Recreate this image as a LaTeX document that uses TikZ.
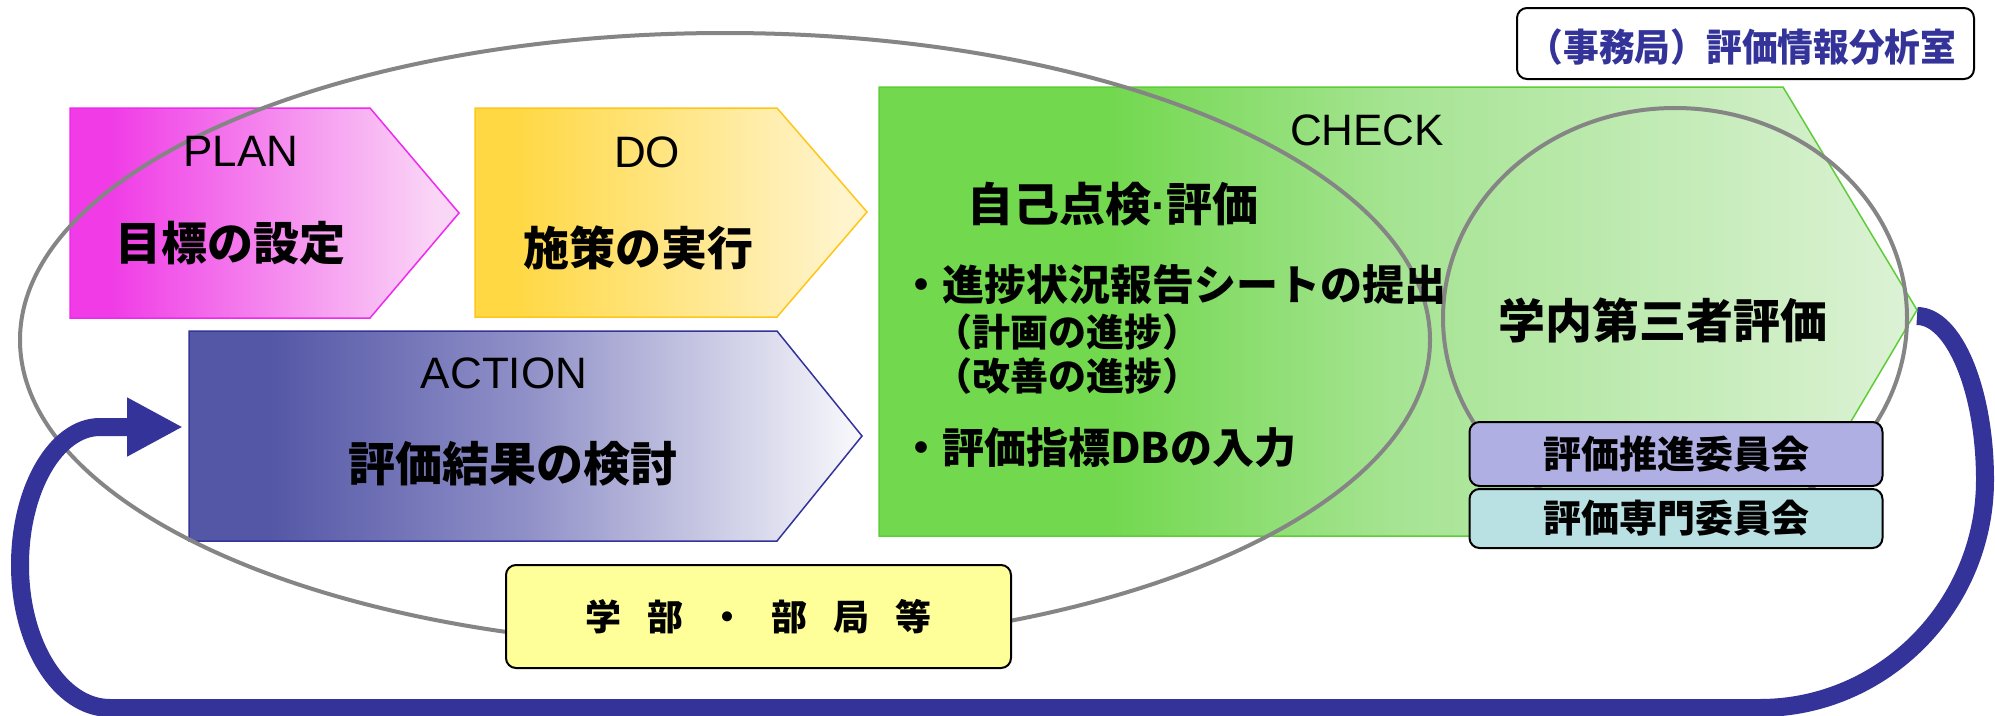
\documentclass[tikz,border=0pt]{standalone}
\usepackage{fontspec}
\setmainfont{Liberation Sans}
\newfontfamily\jp{Noto Sans CJK JP}
\usetikzlibrary{arrows.meta}

\definecolor{planA}{HTML}{F03BE6}
\definecolor{planB}{HTML}{FAD6F6}
\definecolor{planE}{HTML}{EE2AEE}
\definecolor{doA}{HTML}{FFD843}
\definecolor{doB}{HTML}{FFF4CC}
\definecolor{doE}{HTML}{FFC61A}
\definecolor{acA}{HTML}{5457A6}
\definecolor{acM}{HTML}{9090C8}
\definecolor{acB}{HTML}{F9F9FC}
\definecolor{acE}{HTML}{333399}
\definecolor{ckA}{HTML}{72D84E}
\definecolor{ckM}{HTML}{A6E493}
\definecolor{ckB}{HTML}{DDF2D6}
\definecolor{ckE}{HTML}{5FCC3A}
\definecolor{arrowblue}{HTML}{333399}
\definecolor{ellgray}{HTML}{858585}
\definecolor{yel}{HTML}{FFFF99}
\definecolor{lav}{HTML}{B0AFE3}
\definecolor{teal}{HTML}{B9E0E2}

\pgfdeclarehorizontalshading{planshade}{100bp}{color(0bp)=(planA);color(30bp)=(planA);color(72bp)=(planB);color(100bp)=(planB)}
\pgfdeclarehorizontalshading{doshade}{100bp}{color(0bp)=(doA);color(30bp)=(doA);color(72bp)=(doB);color(100bp)=(doB)}
\pgfdeclarehorizontalshading{acshade}{100bp}{color(0bp)=(acA);color(31bp)=(acA);color(50bp)=(acM);color(75bp)=(acB);color(100bp)=(acB)}
\pgfdeclarehorizontalshading{ckshade}{100bp}{color(0bp)=(ckA);color(36bp)=(ckA);color(50bp)=(ckM);color(75bp)=(ckB);color(100bp)=(ckB)}

\begin{document}
\begin{tikzpicture}[x=1pt,y=-1pt,
  jb/.style={font=\jp\bfseries\fontsize{#1}{#1}\selectfont, inner sep=0pt},
  lat/.style={font=\fontsize{44}{44}\selectfont, inner sep=0pt},
  penta/.style={line width=1.5pt, line join=miter},
  ell/.style={draw=ellgray, line width=4pt},
  rbox/.style={draw=black, line width=2pt, rounded corners=10pt}
]
\useasboundingbox (0,0) rectangle (1995,715);
\fill[white] (0,0) rectangle (1995,715);

% phase shapes
\path[penta, shade, shading=planshade, draw=planE] (70,108) -- (370,108) -- (459,213) -- (370,318) -- (70,318) -- cycle;
\path[penta, shade, shading=doshade, draw=doE] (475,108) -- (777,108) -- (867,212) -- (777,317) -- (475,317) -- cycle;
\path[penta, shade, shading=acshade, draw=acE] (189,331) -- (777,331) -- (862,436) -- (777,541) -- (189,541) -- cycle;
\path[penta, shade, shading=ckshade, draw=ckE] (879,87) -- (1783,87) -- (1917,310) -- (1783,536) -- (879,536) -- cycle;

% ellipses
\draw[ell] (725,340) ellipse [x radius=705, y radius=307];
\draw[ell] (1675,318) ellipse [x radius=232, y radius=210];

% feedback arrow
\coordinate (ckTip) at (1917,316);
\coordinate (acIn) at (183,427);
\draw[arrowblue, line width=18pt, -{Triangle[length=56pt,width=55pt]}]
  (ckTip) .. controls (1954,316) and (1985,390) .. (1985,480)
  .. controls (1985,605) and (1884,708) .. (1760,708)
  -- (110,708)
  .. controls (60,708) and (20,644) .. (20,565)
  .. controls (20,489) and (56,427) .. (100,427)
  -- (acIn);

% boxes
\node[rbox, fill=yel, minimum width=505pt, minimum height=103pt, jb=36] (gakubu) at (758.5,616.5)
  {学\hspace{26pt}部\hspace{26pt}・\hspace{26pt}部\hspace{26pt}局\hspace{26pt}等};
\node[rbox, fill=white, minimum width=457pt, minimum height=71pt] (office) at (1745.5,43.5) {};
\node[text=arrowblue, jb=38] (officeT) at (1742,47)
  {\scalebox{0.94}[1]{（事務局）評価情報分析室}};
\node[rbox, fill=lav, minimum width=413pt, minimum height=64pt, jb=38] (suishin) at (1676,454) {評価推進委員会};
\node[rbox, fill=teal, minimum width=413pt, minimum height=59pt, jb=38] (senmon) at (1676,518.5) {評価専門委員会};

% texts
\node[lat] (planT) at (241,151) {PLAN};
\node[jb=46] (planJ) at (230,243) {目標の設定};
\node[lat] (doT) at (647,152) {DO};
\node[jb=46] (doJ) at (638,248) {施策の実行};
\node[lat] (acT) at (504,373) {ACTION};
\node[jb=47] (acJ) at (513,464) {評価結果の検討};
\node[lat] (ckT) at (1367,130) {CHECK};
\node[jb=46] (selfT) at (1113,204) {自己点検{\rmfamily\bfseries ·}評価};
\node[jb=42, anchor=west] (b1) at (900,285) {・進捗状況報告シートの提出};
\node[jb=38] (p1) at (1067,332) {（計画の進捗）};
\node[jb=38] (p2) at (1067,376) {（改善の進捗）};
\node[jb=42, anchor=west] (b2) at (900,448) {・評価指標DBの入力};
\node[jb=47] (gakunai) at (1663,320) {学内第三者評価};
\end{tikzpicture}
\end{document}
